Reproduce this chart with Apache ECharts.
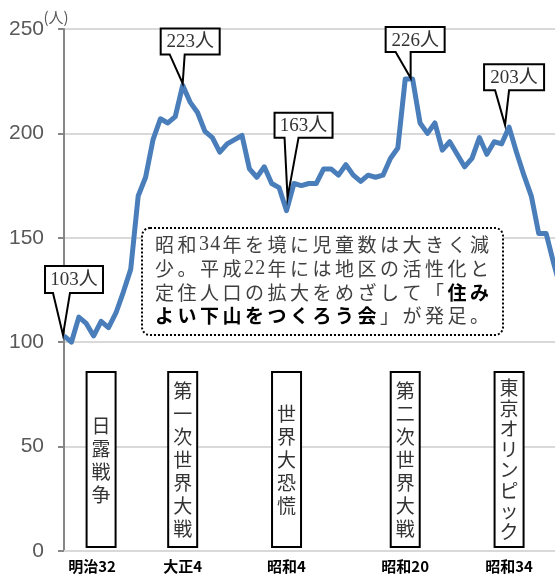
<!DOCTYPE html>
<html><head><meta charset="utf-8">
<script src="https://cdn.jsdelivr.net/npm/echarts@6/dist/echarts.min.js"></script>
<style>html,body{margin:0;padding:0;background:#fff}#c{width:555px;height:579px}</style>
</head><body><div id="c"></div>
<script>
// ---- data ----
const years = ['1899','1900','1901','1902','1903','1904','1905','1906','1907','1908',
  '1909','1910','1911','1912','1913','1914','1915','1916','1917','1918',
  '1919','1920','1921','1922','1923','1924','1925','1926','1927','1928',
  '1929','1930','1931','1932','1933','1934','1935','1936','1937','1938',
  '1939','1940','1941','1942','1943','1944','1945','1946','1947','1948',
  '1949','1950','1951','1952','1953','1954','1955','1956','1957','1958',
  '1959','1960','1961','1962','1963','1964','1965','1966'];
const children = [103,100,112,109,103,110,107,114,124,135,
  170,179,197,207,205,208,223,215,210,201,
  198,191,195,197,199,183,179,184,176,174,
  163,176,175,176,176,183,183,180,185,180,
  177,180,179,180,188,193,226,226,205,200,
  205,192,196,190,184,188,198,190,196,195,
  203,191,180,170,152,152,138,125];
const tickYears = ['1899','1915','1929','1945','1959'];
const tickLabels = ['明治32','大正4','昭和4','昭和20','昭和34'];
const calloutYears = ['1899','1915','1929','1946','1959'];
const calloutLabels = ['103人','223人','163人','226人','203人'];
const eventYears = ['1904','1915','1929','1945','1959'];
const eventLabels = ['日露戦争','第一次世界大戦','世界大恐慌','第二次世界大戦','東京オリンピック'];
const noteLines = [
  [{t:'昭和34年を境に児童数は大きく減'}],
  [{t:'少。平成22年には地区の活性化と'}],
  [{t:'定住人口の拡大をめざして「'},{t:'住み',b:true}],
  [{t:'よい下山をつくろう会',b:true},{t:'」が発足。'}]
];

// ---- layout (pixels) ----
const CJK = '"Noto Sans CJK JP", sans-serif';
const calloutLayout = [
  {box:[-19,-70,58,27], legs:[-11,6], tip:[-1,-1]},
  {box:[-22,-57,59,26], legs:[-13,2], tip:[0,-2]},
  {box:[-12,-98,58,25], legs:[-2,12], tip:[1,-13]},
  {box:[-27,-52,59,25], legs:[-17,-2], tip:[-2,-1]},
  {box:[-25,-63,60,26], legs:[-14,0], tip:[-4,-2]}
];
const eventLineHeight = [23,23,23,23,20.5];

const chart = echarts.init(document.getElementById('c'));
chart.setOption({
  animation:false,
  grid:{left:64,right:-6,top:29,bottom:28,outerBoundsMode:'none',containLabel:false},
  xAxis:{
    type:'category', data:years, boundaryGap:false,
    axisLine:{show:true,lineStyle:{color:'#d9d9d9',width:2}},
    axisTick:{show:false},
    splitLine:{show:false},
    axisLabel:{
      interval:(i,v)=>tickYears.includes(v),
      formatter:(v)=>{const k=tickYears.indexOf(v); if(k<0) return ''; return k===0?'{first|'+tickLabels[k]+'}':tickLabels[k];},
      color:'#000',fontWeight:'bold',fontSize:15,fontFamily:CJK,margin:8,hideOverlap:false,
      rich:{first:{padding:[0,0,0,56],color:'#000',fontWeight:'bold',fontSize:15,fontFamily:CJK}}
    }
  },
  yAxis:{
    type:'value',min:0,max:250,interval:50,
    axisLine:{show:true,lineStyle:{color:'#868686',width:2}},
    axisTick:{show:true,length:6,lineStyle:{color:'#868686',width:2}},
    splitLine:{show:true,lineStyle:{color:'#d9d9d9',width:2}},
    axisLabel:{color:'#595959',fontSize:21,fontFamily:'"Liberation Sans", Arial, sans-serif',margin:20}
  },
  series:[{type:'line',data:children,symbol:'none',smooth:false,
    lineStyle:{color:'#4a7ebb',width:5,join:'round'},z:2}]
});

// ---- annotations ----
const els = [];
els.push({type:'text',x:56,y:17,z:100,style:{text:'(人)',font:'15px '+CJK,fill:'#595959',align:'center',verticalAlign:'middle',textAlign:'center',textVerticalAlign:'middle'}});

calloutYears.forEach((yr,i)=>{
  const p = chart.convertToPixel({xAxisIndex:0,yAxisIndex:0},[yr,children[years.indexOf(yr)]]);
  const L = calloutLayout[i];
  const x0=p[0]+L.box[0], y0=p[1]+L.box[1], x1=x0+L.box[2], y1=y0+L.box[3];
  const tx=p[0]+L.tip[0], ty=p[1]+L.tip[1];
  els.push({type:'polygon',z:100,shape:{points:[[x0,y0],[x1,y0],[x1,y1],[p[0]+L.legs[1],y1],[tx,ty],[p[0]+L.legs[0],y1],[x0,y1]]},
    style:{fill:'#fff',stroke:'#000',lineWidth:2,lineJoin:'miter'}});
  els.push({type:'text',z:101,x:(x0+x1)/2,y:(y0+y1)/2+1,style:{text:calloutLabels[i],font:'19px "Liberation Serif", '+CJK,fill:'#333',align:'center',verticalAlign:'middle',textAlign:'center',textVerticalAlign:'middle'}});
});

eventYears.forEach((yr,i)=>{
  const px = chart.convertToPixel({xAxisIndex:0,yAxisIndex:0},[yr,0])[0];
  els.push({type:'rect',z:100,shape:{x:px-14.5,y:372,width:29,height:175},style:{fill:'#fff',stroke:'#000',lineWidth:2}});
  els.push({type:'text',z:101,x:px,y:460,style:{text:eventLabels[i].split('').join('\n'),font:'19px '+CJK,fill:'#333',lineHeight:eventLineHeight[i],align:'center',verticalAlign:'middle',textAlign:'center',textVerticalAlign:'middle'}});
});

// note box
els.push({type:'rect',z:100,shape:{x:142,y:228,width:361,height:107,r:8},style:{fill:'#fff',stroke:'#000',lineWidth:2,lineDash:[2,2]}});
noteLines.forEach((segs,li)=>{
  let x = 153.25; const y = 245 + li*23.7;
  segs.forEach(seg=>{
    for (const ch of seg.t) {
      const half = /[0-9]/.test(ch);
      const w = half ? 11.25 : 22.5;
      const font = half ? '20px "Liberation Serif", serif' : ((seg.b?'bold ':'')+'19px '+CJK);
      els.push({type:'text',z:101,x:x+w/2,y:y,style:{text:ch,font:font,fill:seg.b?'#000':'#404040',align:'center',verticalAlign:'middle',textAlign:'center',textVerticalAlign:'middle'}});
      x += w;
    }
  });
});
chart.setOption({graphic:{elements:els}});
</script></body></html>
